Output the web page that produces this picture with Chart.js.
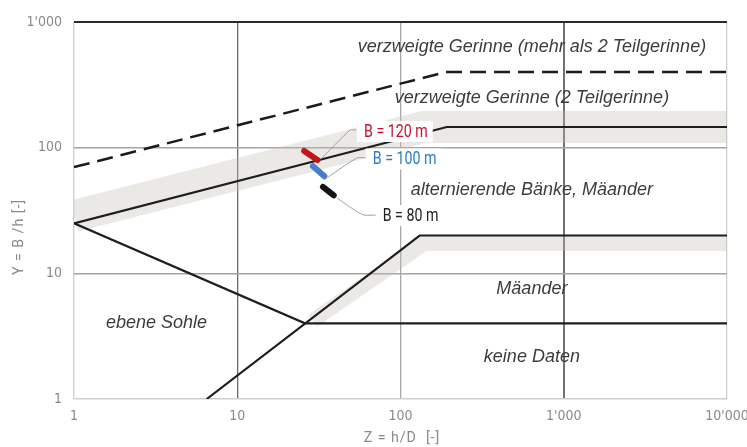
<!DOCTYPE html>
<html>
<head>
<meta charset="utf-8">
<script src="https://cdn.jsdelivr.net/npm/chart.js@4/dist/chart.umd.min.js"></script>
<style>
  html, body { margin: 0; padding: 0; background: #ffffff; }
  #wrap { width: 747px; height: 447px; }
</style>
</head>
<body>
<div id="wrap"><canvas id="c" width="747" height="447"></canvas></div>
<script>
// Axis ticks (Z = h/D on x, Y = B/h on y, both logarithmic)
const xTickValues = [1, 10, 100, 1000, 10000];
const xTickLabels = ["1", "10", "100", "1'000", "10'000"];
const yTickValues = [1, 10, 100, 1000];
const yTickLabels = ["1", "10", "100", "1'000"];

// Regime boundaries
const branchedZ = [1, 190, 10000];      // dashed: > 2 sub-channels
const branchedY = [70, 400, 400];
const barsZ = [1, 192, 10000];          // alternate bars / 2 sub-channels
const barsY = [25, 146, 146];
const meanderZ = [6.5, 131, 10000];     // meanders / alternate bars
const meanderY = [1, 20, 20];
const flatZ = [1, 26, 10000];           // flat bed / no data
const flatY = [25, 4, 4];

// Transition zones (shaded bands)
const barsBandZ = [1, 139, 10000];
const barsBandY = [28.6, 146, 146];
const meanderBandZ = [29, 140, 10000];
const meanderBandY = [4.2, 17.3, 17.3];

// Channel widths: short segments (start, end)
const widthLabels = ["B = 120 m", "B = 100 m", "B = 80 m"];
const widthZ = [[25.7, 31.0], [29.1, 34.2], [33.5, 39.0]];
const widthY = [[94.1, 79.8], [71.1, 59.2], [48.7, 41.7]];
const widthLeaderZ = [[32.6, 49.1, 53.4], [36.0, 54.1, 62.3], [40.8, 53.4, 59.8, 72.8]];
const widthLeaderY = [[81.3, 138.2, 138.2], [58.4, 82.8, 82.8], [39.8, 31.3, 29.1, 29.1]];
const widthLabelZ = [59.8, 67.6, 77.8];
const widthLabelY = [135.7, 82.0, 29.1];

// Regime names
const regionNames = [
  "verzweigte Gerinne (mehr als 2 Teilgerinne)",
  "verzweigte Gerinne (2 Teilgerinne)",
  "alternierende Bänke, Mäander",
  "Mäander",
  "keine Daten",
  "ebene Sohle"
];
const regionZ = [638, 638, 638, 638, 638, 3.2];
const regionY = [632, 248, 46, 7.5, 2.16, 4.02];

const widthColors = ["#c0161c", "#4a7cc9", "#141414"];
const widthTextColors = ["#c8102e", "#2b7cc4", "#222222"];

const pts = (zs, ys) => zs.map((z, i) => ({ x: z, y: ys[i] }));

const baseLine = {
  type: 'line', fill: false, pointRadius: 0, pointHoverRadius: 0,
  tension: 0, borderJoinStyle: 'miter'
};
const bandColor = 'rgba(195,190,180,0.34)';

// higher "order" is painted first (underneath)
const datasets = [
  Object.assign({}, baseLine, { order: 10, data: pts(barsBandZ, barsBandY), borderColor: bandColor, borderWidth: 32, clip: 0, borderCapStyle: 'butt' }),
  Object.assign({}, baseLine, { order: 10, data: pts(meanderBandZ, meanderBandY), borderColor: bandColor, borderWidth: 15, clip: 0, borderCapStyle: 'butt' }),
  Object.assign({}, baseLine, { order: 5, data: pts(branchedZ, branchedY), borderColor: '#1a1a1a', borderWidth: 2.5, borderDash: [16, 8], clip: 0 }),
  Object.assign({}, baseLine, { order: 5, data: pts(barsZ, barsY), borderColor: '#1e1e1e', borderWidth: 2.2, clip: 0 }),
  Object.assign({}, baseLine, { order: 5, data: pts(meanderZ, meanderY), borderColor: '#1e1e1e', borderWidth: 2.2, clip: 0 }),
  Object.assign({}, baseLine, { order: 5, data: pts(flatZ, flatY), borderColor: '#1e1e1e', borderWidth: 2.2, clip: 0 })
];
widthLabels.forEach((name, i) => {
  datasets.push(Object.assign({}, baseLine, {
    order: 3, data: pts(widthLeaderZ[i], widthLeaderY[i]), borderColor: '#a0a0a0', borderWidth: 1, tension: 0.2
  }));
});
widthLabels.forEach((name, i) => {
  datasets.push(Object.assign({}, baseLine, {
    order: 1, data: pts(widthZ[i], widthY[i]), borderColor: widthColors[i], borderWidth: 6, borderCapStyle: 'round'
  }));
});

const tickFont = { family: "'Liberation Sans Narrow', 'DejaVu Sans Condensed', Roboto, sans-serif", size: 14 };

const gridColorX = (v) => (v === 10 ? '#6a6a6a' : v === 100 ? '#a8a8a8' : v === 1000 ? '#707070' : '#cfcfcf');
const gridWidthX = (v) => (v === 1000 ? 2 : 1.3);
const gridColorY = (v) => (v === 1000 ? '#2a2a2a' : v === 1 ? '#cfcfcf' : '#a4a4a4');
const gridWidthY = (v) => (v === 1000 ? 2 : 1.5);

// draws text squeezed horizontally (condensed look)
function condensedText(ctx, text, px, py, squeeze) {
  ctx.save();
  ctx.translate(px, py);
  ctx.scale(squeeze, 1);
  ctx.fillText(text, 0, 0);
  ctx.restore();
}

const annotate = {
  id: 'annotate',
  afterDatasetsDraw(chart) {
    const { ctx, scales: { x, y } } = chart;
    ctx.save();
    // regime names
    ctx.font = "italic 18px 'Liberation Sans', Arial, sans-serif";
    ctx.fillStyle = '#3c3c3c';
    ctx.textAlign = 'center';
    ctx.textBaseline = 'middle';
    regionNames.forEach((t, i) => {
      ctx.fillText(t, x.getPixelForValue(regionZ[i]), y.getPixelForValue(regionY[i]));
    });
    // channel width labels
    const squeeze = 0.79;
    ctx.font = "18px Roboto, sans-serif";
    ctx.textAlign = 'left';
    widthLabels.forEach((t, i) => {
      const px = x.getPixelForValue(widthLabelZ[i]);
      const py = y.getPixelForValue(widthLabelY[i]);
      const w = ctx.measureText(t).width * squeeze;
      ctx.fillStyle = '#ffffff';
      ctx.fillRect(px - 7, py - 10, w + 12, 21);
      ctx.fillStyle = widthTextColors[i];
      condensedText(ctx, t, px, py + 1, squeeze);
    });
    // axis titles
    ctx.fillStyle = '#8a8a8a';
    ctx.font = "15px Roboto, sans-serif";
    ctx.letterSpacing = '1px';
    ctx.textAlign = 'center';
    condensedText(ctx, 'Z = h/D  [-]', 402, 438, 0.95);
    ctx.translate(19, 237);
    ctx.rotate(-Math.PI / 2);
    condensedText(ctx, 'Y = B /h [-]', 0, 0, 0.95);
    ctx.restore();
  }
};

new Chart(document.getElementById('c'), {
  type: 'line',
  data: { datasets },
  plugins: [annotate],
  options: {
    responsive: false,
    animation: false,
    events: [],
    layout: { padding: { left: 0, right: 20, top: 22, bottom: 0 } },
    plugins: { legend: { display: false }, tooltip: { enabled: false } },
    scales: {
      x: {
        type: 'logarithmic', min: 1, max: 10000,
        afterBuildTicks: (s) => { s.ticks = xTickValues.map(v => ({ value: v })); },
        afterFit: (s) => { s.height = 48; s.paddingLeft = 0; s.paddingRight = 0; },
        ticks: {
          autoSkip: false, maxRotation: 0, padding: 9, color: '#8a8a8a', font: tickFont,
          callback: (v, i) => xTickLabels[i]
        },
        grid: {
          drawTicks: false,
          color: (c) => gridColorX(c.tick && c.tick.value),
          lineWidth: (c) => gridWidthX(c.tick && c.tick.value)
        },
        border: { display: false }
      },
      y: {
        type: 'logarithmic', min: 1, max: 1000,
        afterBuildTicks: (s) => { s.ticks = yTickValues.map(v => ({ value: v })); },
        afterFit: (s) => { s.width = 74; s.paddingTop = 0; s.paddingBottom = 0; },
        ticks: {
          autoSkip: false, padding: 12, color: '#8a8a8a', font: tickFont,
          callback: (v, i) => yTickLabels[i]
        },
        grid: {
          drawTicks: false,
          color: (c) => gridColorY(c.tick && c.tick.value),
          lineWidth: (c) => gridWidthY(c.tick && c.tick.value)
        },
        border: { display: false }
      }
    }
  }
});
</script>
</body>
</html>
